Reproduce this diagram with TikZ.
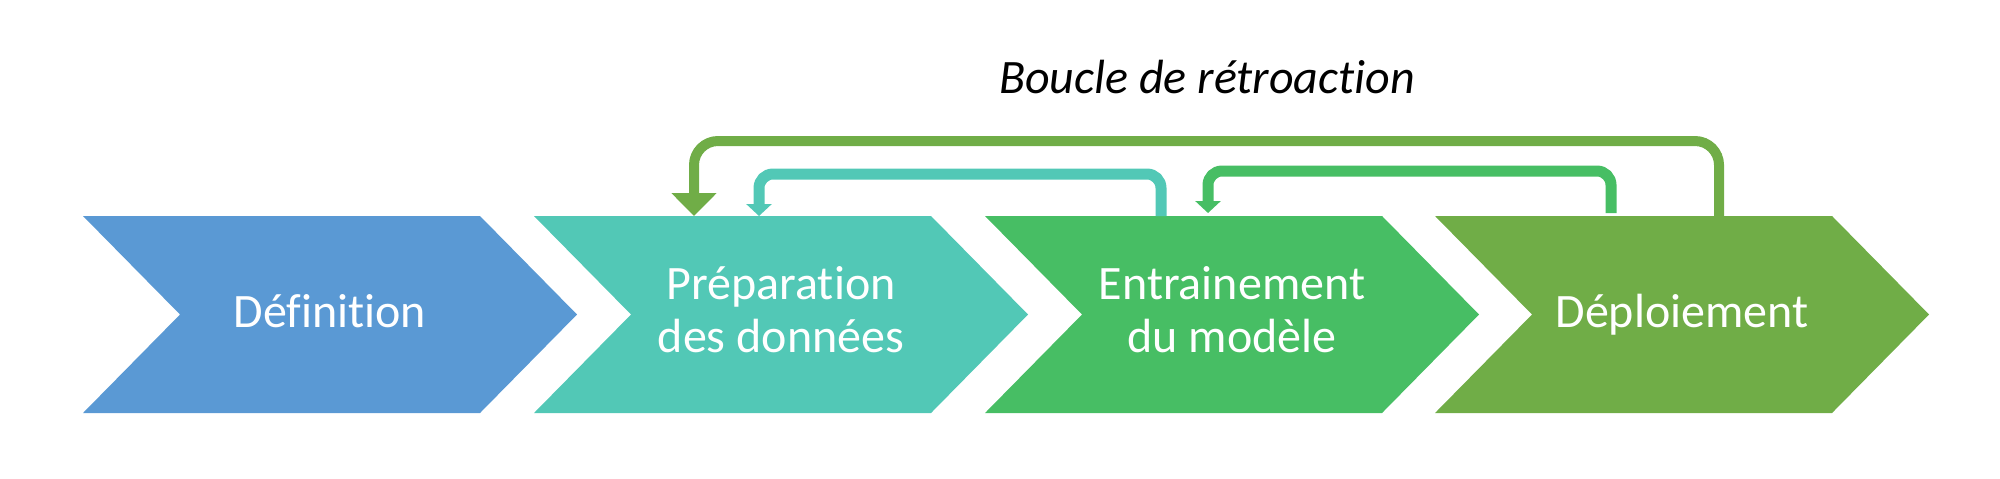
\documentclass[tikz,border=0pt]{standalone}
\usepackage{fontspec}
\setmainfont{Carlito}[Ligatures={NoCommon}]
\usetikzlibrary{arrows.meta,calc}
\definecolor{cblue}{HTML}{5A99D4}
\definecolor{cteal}{HTML}{52C8B6}
\definecolor{cgreen}{HTML}{47BE64}
\definecolor{cdgreen}{HTML}{70AD47}
\newcommand\chevfill[2]{\fill[#2] (#1.north west) -- ($(#1.north east)+(-97,0)$) -- (#1.east) -- ($(#1.south east)+(-97,0)$) -- (#1.south west) -- ($(#1.west)+(97,0)$) -- cycle;}
\begin{document}
\begin{tikzpicture}[x=0.5pt,y=-0.5pt,
  chev/.style={minimum width=247pt, minimum height=98.5pt, inner sep=0pt, outer sep=0pt},
  lbl/.style={text=white, font=\fontsize{24pt}{26.5pt}\selectfont, align=center, inner sep=0pt, anchor=base},
  fbbig/.style={draw=cdgreen, line width=5pt, rounded corners=12pt, -{Triangle[width=22pt,length=11.5pt]}},
  fbsmall/.style={line width=5.5pt, rounded corners=7pt, -{Triangle[width=12.5pt,length=6pt]}}]
\useasboundingbox (0,0) rectangle (2000,478);
\node[chev] (c1) at (330,314.5) {};
\node[chev] (c2) at (781,314.5) {};
\node[chev] (c3) at (1232,314.5) {};
\node[chev] (c4) at (1682,314.5) {};
\chevfill{c1}{cblue}
\chevfill{c2}{cteal}
\chevfill{c3}{cgreen}
\chevfill{c4}{cdgreen}
\node[lbl] (t1) at (330,327) {Définition};
\node[lbl] (t2) at (781,352) {Préparation\\des données};
\node[lbl] (t3) at (1232,352) {Entrainement\\du modèle};
\node[lbl] (t4) at (1682,327) {Déploiement};
\node[font=\itshape\fontsize{24pt}{26.5pt}\selectfont, inner sep=0pt, anchor=base] (title) at (1207,93) {Boucle de rétroaction};
% feedback arrows
\coordinate (bs) at ($(c4.north west)+(284,0)$);
\coordinate (be) at ($(c2.north west)+(160,0)$);
\coordinate (ts) at ($(c3.north west)+(176,0)$);
\coordinate (te) at ($(c2.north west)+(225,0)$);
\coordinate (gs) at ($(c4.north west)+(176,-3)$);
\coordinate (ge) at ($(c3.north west)+(223,-3)$);
\draw[fbbig] (bs) -- ++(0,-75) -| (be);
\draw[fbsmall, draw=cteal] (ts) -- ++(0,-42) -| (te);
\draw[fbsmall, draw=cgreen] (gs) -- ++(0,-42) -| (ge);
\end{tikzpicture}
\end{document}
